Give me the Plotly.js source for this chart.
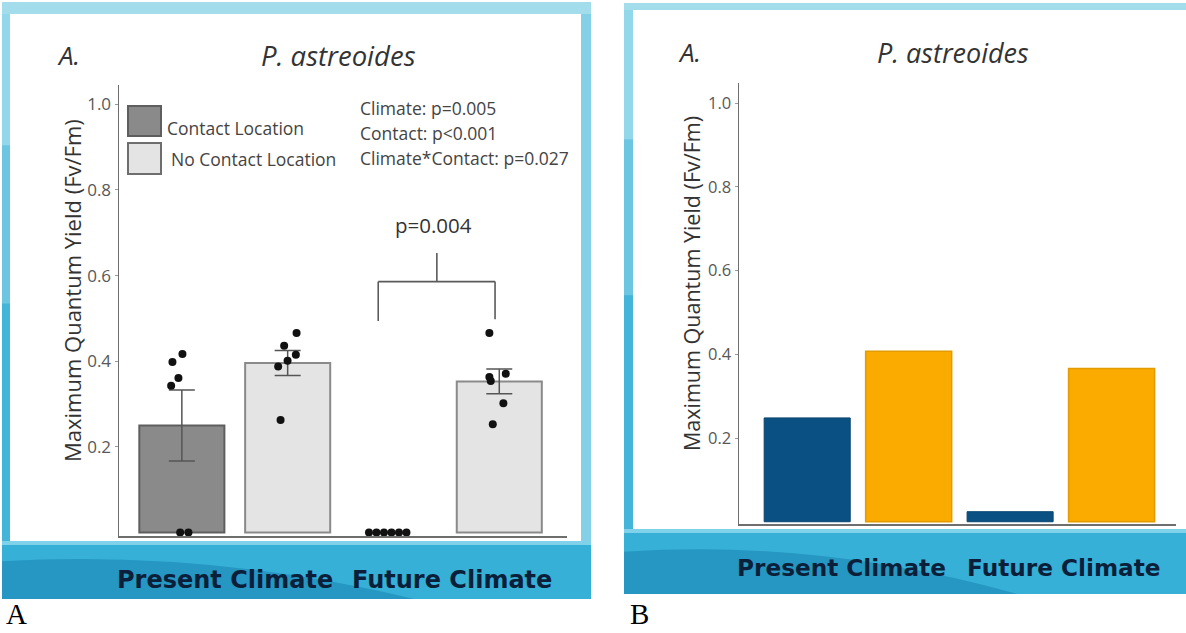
<!DOCTYPE html>
<html>
<head>
<meta charset="utf-8">
<script src="https://cdn.plot.ly/plotly-3.0.1.min.js"></script>
<style>
  html, body { margin: 0; padding: 0; background: #ffffff; }
  #chart { width: 1186px; height: 633px; }
</style>
</head>
<body>
<div id="chart"></div>
<script>
// ---------- data ----------
const climates = ['Present Climate', 'Future Climate'];
const seriesNames = ['Contact Location', 'No Contact Location'];
const speciesTitle = 'P. astreoides';
const panelTag = 'A.';
const yAxisTitle = 'Maximum Quantum Yield (Fv/Fm)';
const yTicks = [0.2, 0.4, 0.6, 0.8, 1.0];
const yTickText = ['0.2', '0.4', '0.6', '0.8', '1.0'];

// panel A: means and standard errors per climate
const contactMean = [0.25, 0.0];
const contactSE = [0.083, null];
const noContactMean = [0.396, 0.353];
const noContactSE = [0.029, 0.029];

// panel A: individual colonies
const presentContactPts = [0.417, 0.398, 0.361, 0.343, 0.0, 0.0];
const presentNoContactPts = [0.466, 0.436, 0.415, 0.401, 0.388, 0.263];
const futureContactPts = [0.0, 0.0, 0.0, 0.0, 0.0, 0.0];
const futureNoContactPts = [0.466, 0.371, 0.363, 0.354, 0.302, 0.253];

// panel B: means only
const contactMeanB = [0.248, 0.024];
const noContactMeanB = [0.407, 0.366];

const statsLines = ['Climate: p=0.005', 'Contact: p<0.001', 'Climate*Contact: p=0.027'];
const pairTest = 'p=0.004';
const figureLetters = ['A', 'B'];

// ---------- geometry helpers ----------
const W = 1186, H = 633;
const px = x => x / W;
const py = y => 1 - y / H;

const PA = { x0: 119, x1: 567, yTop: 85, yBot: 536, xRange: [-0.547, 1.570], yRange: [-0.008, 1.045], unit: 211.6, barW: 0.402 };
const PB = { x0: 739, x1: 1175.5, yTop: 83, yBot: 524, xRange: [-0.586, 1.565], yRange: [-0.0054, 1.048], unit: 202.9, barW: 0.424 };
const GROUP_OFF = 0.25;

// horizontal scatter of the colony dots (pixels from bar centre)
const jitterPx = [
  [0.6, -9.4, -3.4, -10.7, -1.7, 6.6],
  [8.9, -3.5, 8.2, -0.1, -9.5, -7.1],
  [-24.5, -17, -9.5, -2, 5.5, 13],
  [-9.9, 6.5, -9.9, -8.5, 4.1, -6.5]
];

const GREY_DARK = '#8a8a8a', GREY_LIGHT = '#e4e4e4';
const NAVY = '#0b5082', AMBER = '#fbab00';
const SANS = 'Open Sans, Noto Sans, sans-serif';

// ---------- traces ----------
const errStyle = { type: 'data', color: '#555555', thickness: 1.5, width: 13 };
const traces = [];

// outline only where a bar has height
const outlineW = (vals, w) => vals.map(v => (v > 0 ? w : 0));

traces.push({
  type: 'bar', name: seriesNames[0], x: [0, 1], y: contactMean, width: PA.barW,
  xaxis: 'x', yaxis: 'y',
  marker: { color: GREY_DARK, line: { color: '#5e5e5e', width: outlineW(contactMean, 2) } },
  error_y: Object.assign({ array: contactSE }, errStyle)
});
traces.push({
  type: 'bar', name: seriesNames[1], x: [0, 1], y: noContactMean, width: PA.barW,
  xaxis: 'x', yaxis: 'y',
  marker: { color: GREY_LIGHT, line: { color: '#8a8a8a', width: outlineW(noContactMean, 2) } },
  error_y: Object.assign({ array: noContactSE }, errStyle)
});

const pointSets = [
  [presentContactPts, 0, -GROUP_OFF],
  [presentNoContactPts, 0, GROUP_OFF],
  [futureContactPts, 1, -GROUP_OFF],
  [futureNoContactPts, 1, GROUP_OFF]
];
const dotX = [], dotY = [];
pointSets.forEach(([vals, ci, off], k) => {
  vals.forEach((v, j) => {
    dotX.push(ci + off + jitterPx[k][j] / PA.unit);
    dotY.push(v);
  });
});
traces.push({
  type: 'scatter', mode: 'markers', x: dotX, y: dotY, xaxis: 'x', yaxis: 'y',
  marker: { color: '#111111', size: 8 }, cliponaxis: false, showlegend: false, hoverinfo: 'y'
});

traces.push({
  type: 'bar', name: seriesNames[0], x: [0, 1], y: contactMeanB, width: PB.barW,
  xaxis: 'x2', yaxis: 'y2',
  marker: { color: NAVY, line: { color: '#0a4570', width: 1 } }
});
traces.push({
  type: 'bar', name: seriesNames[1], x: [0, 1], y: noContactMeanB, width: PB.barW,
  xaxis: 'x2', yaxis: 'y2',
  marker: { color: AMBER, line: { color: '#e39c00', width: 1.5 } }
});

// ---------- axes ----------
function xAxis(P, anchor) {
  return {
    domain: [px(P.x0), px(P.x1)], range: P.xRange, anchor: anchor,
    showline: true, linecolor: '#6e6e6e', linewidth: 1.5,
    showgrid: false, zeroline: false, showticklabels: false, ticks: '', fixedrange: true
  };
}
function yAxis(P, anchor, fs) {
  return {
    domain: [py(P.yBot), py(P.yTop)], range: P.yRange, anchor: anchor,
    showline: true, linecolor: '#6e6e6e', linewidth: 1.5,
    showgrid: false, zeroline: false,
    tickmode: 'array', tickvals: yTicks, ticktext: yTickText,
    ticks: 'outside', ticklen: 3, tickwidth: 1, tickcolor: '#9a9a9a',
    tickfont: { family: SANS, size: fs, color: '#585858' }, fixedrange: true
  };
}

// ---------- frame decoration ----------
function frame(x0, y0, x1, y1, wx0, wy0, wx1, wy1) {
  const r = (a, b, c, d, fill) => ({
    type: 'rect', xref: 'paper', yref: 'paper', layer: 'below',
    x0: px(a), x1: px(c), y0: py(d), y1: py(b), fillcolor: fill, line: { width: 0 }
  });
  const s = [];
  s.push(r(x0, y0, x1, y1, '#3cb1d6'));
  // top rim
  s.push(r(x0, y0, x1, wy0, '#a3ddec'));
  // left rim: light at top, deeper teal toward the base
  const h = wy1 - wy0;
  s.push(r(x0, wy0, wx0, wy0 + h * 0.25, '#92d7ea'));
  s.push(r(x0, wy0 + h * 0.25, wx0, wy0 + h * 0.55, '#6cc6e2'));
  s.push(r(x0, wy0 + h * 0.55, wx0, wy1, '#45b4d9'));
  // right rim
  if (x1 > wx1) s.push(r(wx1, wy0, x1, wy1, '#84d0e6'));
  // bottom band with a darker sweep on the left
  s.push(r(x0, wy1, x1, y1, '#36b0d6'));
  const bandH = y1 - wy1;
  s.push({
    type: 'path', xref: 'paper', yref: 'paper', layer: 'below',
    path: `M ${px(x0)},${py(wy1 + bandH * 0.35)} Q ${px(x0 + (x1 - x0) * 0.35)},${py(wy1 + bandH * 0.15)} ${px(x0 + (x1 - x0) * 0.7)},${py(y1)} L ${px(x0)},${py(y1)} Z`,
    fillcolor: '#2597c2', line: { width: 0 }
  });
  s.push(r(x0, wy1, x1, wy1 + 4, '#7fd2ea'));
  // white card
  s.push(r(wx0, wy0, wx1, wy1, '#ffffff'));
  return s;
}

const shapes = [].concat(
  frame(2, 2, 591, 599, 10, 14, 581, 541),
  frame(624, 3, 1186, 594, 633, 10, 1186, 529)
);

// legend swatches (panel A)
shapes.push({ type: 'rect', xref: 'paper', yref: 'paper', x0: px(128), x1: px(161), y0: py(136), y1: py(106),
  fillcolor: GREY_DARK, line: { color: '#5e5e5e', width: 2 } });
shapes.push({ type: 'rect', xref: 'paper', yref: 'paper', x0: px(128), x1: px(161), y0: py(174), y1: py(143),
  fillcolor: GREY_LIGHT, line: { color: '#6e6e6e', width: 2 } });

// pairwise comparison bracket (future climate)
const brk = { l: 0.678, r: 1.230, m: 0.955, top: 0.586, legL: 0.494, legR: 0.498, stem: 0.653 };
const ln = (x0, y0, x1, y1) => ({ type: 'line', xref: 'x', yref: 'y', x0, y0, x1, y1, line: { color: '#5a5a5a', width: 1.6 } });
shapes.push(ln(brk.l, brk.top, brk.r, brk.top));
shapes.push(ln(brk.l, brk.top, brk.l, brk.legL));
shapes.push(ln(brk.r, brk.top, brk.r, brk.legR));
shapes.push(ln(brk.m, brk.top, brk.m, brk.stem));

// ---------- annotations ----------
const ann = [];
const textAt = (text, x, y, opts) => Object.assign({
  text, xref: 'paper', yref: 'paper', x: px(x), y: py(y), showarrow: false,
  xanchor: 'center', yanchor: 'middle', font: { family: SANS, size: 16, color: '#3c3c3c' }
}, opts || {});

// panel titles
ann.push(textAt('<i>' + panelTag + '</i>', 68, 55, { font: { family: SANS, size: 26, color: '#333' } }));
ann.push(textAt('<i>' + speciesTitle + '</i>', 338, 55, { font: { family: SANS, size: 27.5, color: '#333' } }));
ann.push(textAt('<i>' + panelTag + '</i>', 689, 52, { font: { family: SANS, size: 26, color: '#333' } }));
ann.push(textAt('<i>' + speciesTitle + '</i>', 953, 52, { font: { family: SANS, size: 27, color: '#333' } }));

// y-axis titles
ann.push(textAt(yAxisTitle, 72, 291, { textangle: -90, font: { family: SANS, size: 22, color: '#333' } }));
ann.push(textAt(yAxisTitle, 691, 284, { textangle: -90, font: { family: SANS, size: 21.5, color: '#333' } }));

// legend labels
ann.push(textAt(seriesNames[0], 165, 128, { xanchor: 'left', font: { family: SANS, size: 17.5, color: '#444' } }));
ann.push(textAt(seriesNames[1], 169, 159, { xanchor: 'left', font: { family: SANS, size: 17.5, color: '#444' } }));

// model statistics
statsLines.forEach((t, i) => ann.push(textAt(t, 358, 108 + 25 * i, { xanchor: 'left', font: { family: SANS, size: 17.5, color: '#444' } })));

// pairwise p-value
ann.push(textAt(pairTest, 433, 225, { font: { family: SANS, size: 20.5, color: '#333' } }));

// climate labels in the bottom band
const climShiftA = [-9.5, 6], climShiftB = [-16, 3];
climates.forEach((c, i) => {
  ann.push({ text: '<b>' + c + '</b>', xref: 'x', yref: 'paper', x: i, y: py(580), xshift: climShiftA[i],
    showarrow: false, xanchor: 'center', yanchor: 'middle',
    font: { family: 'DejaVu Sans, sans-serif', size: 24, color: '#0b1f3a' } });
  ann.push({ text: '<b>' + c + '</b>', xref: 'x2', yref: 'paper', x: i, y: py(567), xshift: climShiftB[i],
    showarrow: false, xanchor: 'center', yanchor: 'middle',
    font: { family: 'DejaVu Sans, sans-serif', size: 23.2, color: '#0b1f3a' } });
});

// figure letters
ann.push(textAt(figureLetters[0], 16, 614, { font: { family: 'Liberation Serif, Times New Roman, serif', size: 29, color: '#000' } }));
ann.push(textAt(figureLetters[1], 639, 614, { font: { family: 'Liberation Serif, Times New Roman, serif', size: 29, color: '#000' } }));

const layout = {
  width: W, height: H,
  margin: { l: 0, r: 0, t: 0, b: 0 },
  paper_bgcolor: '#ffffff', plot_bgcolor: 'rgba(0,0,0,0)',
  showlegend: false,
  barmode: 'group', bargap: 0, bargroupgap: 0,
  xaxis: xAxis(PA, 'y'), yaxis: yAxis(PA, 'x', 17),
  xaxis2: xAxis(PB, 'y2'), yaxis2: yAxis(PB, 'x2', 16.5),
  shapes: shapes, annotations: ann
};

Plotly.newPlot('chart', traces, layout, { displayModeBar: false, staticPlot: true });
</script>
</body>
</html>
